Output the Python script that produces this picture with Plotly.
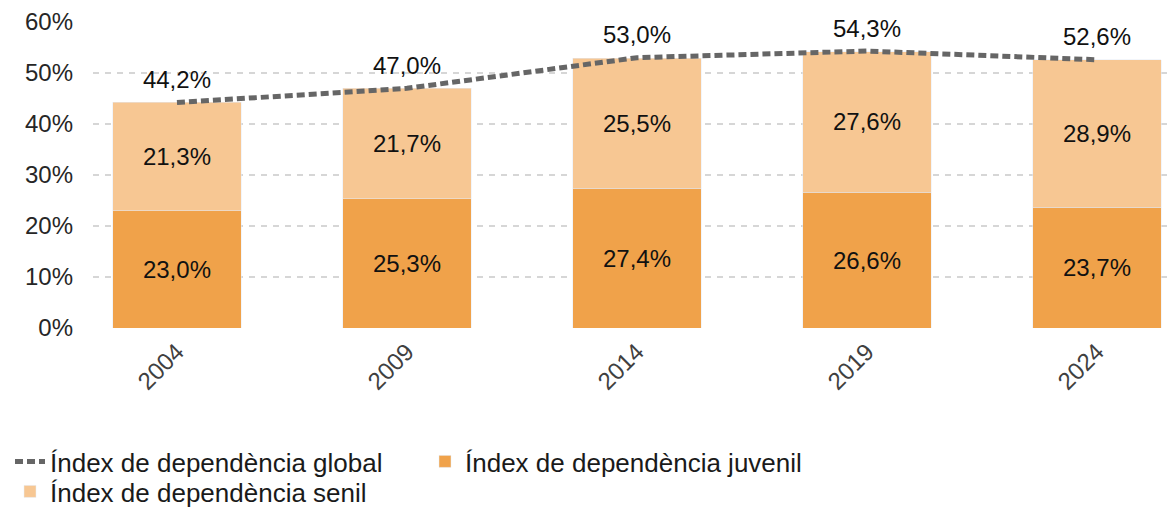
import plotly.graph_objects as go

years = ["2004", "2009", "2014", "2019", "2024"]
juvenil = [23.0, 25.3, 27.4, 26.6, 23.7]
senil = [21.3, 21.7, 25.5, 27.6, 28.9]
global_idx = [44.2, 47.0, 53.0, 54.3, 52.6]

names = ["Índex de dependència global", "Índex de dependència juvenil", "Índex de dependència senil"]

def fmt(v):
    return f"{v:.1f}%".replace(".", ",")

FONT = "Liberation Sans, Arial, sans-serif"

fig = go.Figure()

fig.add_trace(go.Scatter(
    x=years, y=global_idx, name=names[0], mode="lines+markers+text",
    line=dict(color="#666666", width=5, dash="8px,4px"),
    marker=dict(size=12, color="rgba(0,0,0,0)"),
    text=[fmt(v) for v in global_idx], textposition="top center",
    textfont=dict(family=FONT, size=24, color="#111111"),
    cliponaxis=False, legend="legend",
))
fig.add_trace(go.Bar(
    x=years, y=juvenil, name=names[1],
    marker=dict(color="#F0A24A"),
    text=[fmt(v) for v in juvenil], textposition="inside", insidetextanchor="middle",
    textfont=dict(family=FONT, size=24, color="#111111"),
    textangle=0, legend="legend",
))
fig.add_trace(go.Bar(
    x=years, y=senil, name=names[2],
    marker=dict(color="#F7C793"),
    text=[fmt(v) for v in senil], textposition="inside", insidetextanchor="middle",
    textfont=dict(family=FONT, size=24, color="#111111"),
    textangle=0, legend="legend2",
))

legend_common = dict(
    orientation="h", xref="container", yref="container",
    x=10 / 1176, xanchor="left", yanchor="top",
    entrywidth=370, entrywidthmode="pixels",
    font=dict(family=FONT, size=26, color="#1a1a1a"),
    traceorder="normal", itemclick=False, itemdoubleclick=False,
    bgcolor="rgba(0,0,0,0)",
)

fig.update_layout(
    width=1176, height=510,
    margin=dict(l=93, r=4, t=22, b=182, autoexpand=False),
    barmode="stack", bargap=0.443,
    plot_bgcolor="white", paper_bgcolor="white",
    font=dict(family=FONT, color="#222222"),
    uniformtext=dict(minsize=10, mode="show"),
    legend=dict(legend_common, y=1 - 438 / 510),
    legend2=dict(legend_common, y=1 - 468 / 510),
    showlegend=True,
)

fig.update_xaxes(
    type="category", range=[-0.365, 4.326], automargin=False,
    tickangle=-45, ticks="", showgrid=False, showline=False, zeroline=False,
    ticklabelstandoff=4,
    tickfont=dict(family=FONT, size=24, color="#404040"),
)
fig.update_yaxes(
    range=[0, 60], dtick=10, ticksuffix="%", ticks="", automargin=False,
    showgrid=True, gridcolor="#d6d6d6", griddash="6px,6px", gridwidth=1.5,
    zeroline=False, showline=False, ticklabelstandoff=19,
    tickfont=dict(family=FONT, size=24, color="#262626"),
)

fig.write_html(
    "out.html",
    config={"displayModeBar": False},
    post_script="document.body.style.margin='0';document.body.style.padding='0';",
)
